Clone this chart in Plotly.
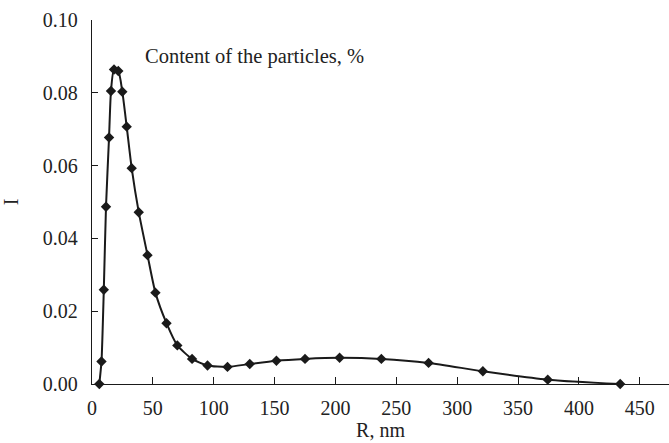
import plotly.graph_objects as go

R_nm = [6.0, 7.8, 9.7, 11.5, 14.0, 15.6, 18.1, 21.6, 24.9, 28.5, 32.6, 38.4, 45.6, 52.1,
        61.2, 70.1, 82.2, 94.9, 111.3, 129.6, 151.5, 175.0, 203.4, 237.7, 276.5, 321.1,
        374.4, 433.9]
I_vals = [0.0, 0.0062, 0.0259, 0.0487, 0.0677, 0.0805, 0.0864, 0.0860, 0.0803, 0.0707,
          0.0593, 0.0472, 0.0354, 0.0251, 0.0167, 0.0106, 0.0069, 0.0051, 0.0047, 0.0055,
          0.0064, 0.0069, 0.0072, 0.0069, 0.0058, 0.0035, 0.0012, 0.0]
x_ticks = [0, 50, 100, 150, 200, 250, 300, 350, 400, 450]
y_ticks = [0.0, 0.02, 0.04, 0.06, 0.08, 0.10]

FONT = "Liberation Serif"
INK = "#1a1a1a"

fig = go.Figure()
fig.add_trace(go.Scatter(
    x=R_nm, y=I_vals, mode="lines+markers",
    line=dict(color=INK, width=2, shape="spline", smoothing=0.6),
    marker=dict(symbol="diamond", size=8, color=INK),
    cliponaxis=False, showlegend=False,
))

fig.add_annotation(
    x=41.5, y=0.0899, xref="x", yref="y", xanchor="left", yanchor="middle",
    text="Content of the particles, %", showarrow=False,
    font=dict(family=FONT, size=20.5, color="#222"),
)

fig.update_layout(
    width=669, height=443,
    margin=dict(l=92, r=0, t=20, b=59),
    paper_bgcolor="white", plot_bgcolor="white",
    font=dict(family=FONT, size=20, color="#222"),
    xaxis=dict(
        range=[0, 474], tickvals=x_ticks, ticktext=[str(v) for v in x_ticks],
        ticks="inside", ticklen=7, tickcolor=INK, tickwidth=1.2, ticklabelstandoff=6,
        showline=True, linecolor=INK, linewidth=1.4, showgrid=False, zeroline=False,
        title=dict(text="R, nm", font=dict(family=FONT, size=20), standoff=2),
    ),
    yaxis=dict(
        range=[0, 0.1], tickvals=y_ticks, ticktext=[f"{v:.2f}" for v in y_ticks],
        ticks="inside", ticklen=6, tickcolor=INK, tickwidth=1.2, ticklabelstandoff=9,
        showline=True, linecolor=INK, linewidth=1.4, showgrid=False, zeroline=False,
        title=dict(text="I", font=dict(family=FONT, size=20), standoff=18),
    ),
)

fig.write_html("out.html")
